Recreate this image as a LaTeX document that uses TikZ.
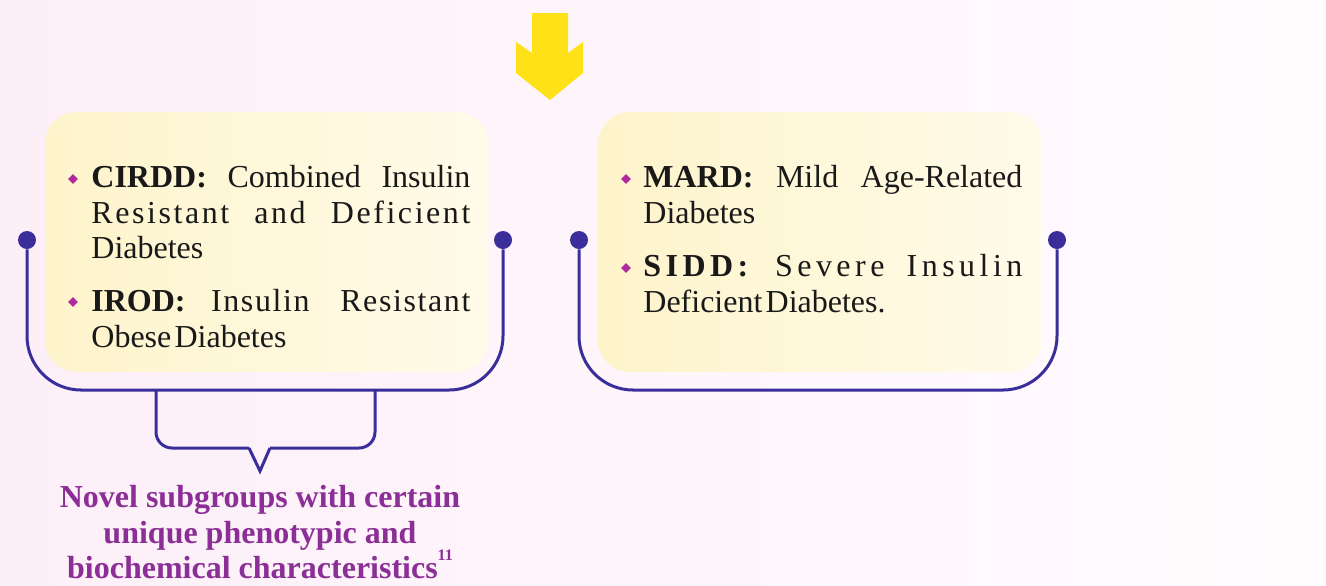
\documentclass[tikz,border=0pt]{standalone}
\usepackage{fontspec}
\setmainfont{Liberation Serif}
\usetikzlibrary{positioning,shapes.geometric}

\definecolor{bgpink}{RGB}{253,239,248}
\definecolor{bgwhite}{RGB}{255,252,254}
\definecolor{panelyellow}{RGB}{254,244,203}
\definecolor{panelcream}{RGB}{255,251,233}
\definecolor{bracketblue}{RGB}{58,46,155}
\definecolor{bulletpink}{RGB}{176,41,159}
\definecolor{captionpurple}{RGB}{139,47,151}
\definecolor{arrowyellow}{RGB}{255,225,23}

\tikzset{
	panel/.style={rectangle, rounded corners=16pt, left color=panelyellow, right color=panelcream, draw=none},
	bracket/.style={draw=bracketblue, line width=1.5pt},
	enddot/.style={circle, fill=bracketblue, minimum size=9pt, inner sep=0pt},
	bulletmark/.style={diamond, fill=bulletpink, minimum size=5pt, inner sep=0pt},
	entry/.style={text width=189.5pt, align=justify, inner sep=0pt, anchor=north west,
		font=\fontsize{16}{17.7}\selectfont, text=black!90},
	caption/.style={align=center, inner sep=0pt, text=captionpurple,
		font=\fontsize{16}{17.7}\selectfont\bfseries}
}

\begin{document}
\begin{tikzpicture}[x=0.5pt, y=-0.5pt]
	\useasboundingbox (0,0) rectangle (1326,585);
	\shade[left color=bgpink, right color=bgwhite] (0,0) rectangle (1326,585);
	
	% arrow from above
	\fill[arrowyellow] (532,13) -- (568,13) -- (568,53) -- (583,42) -- (583,73) -- (550,100)
		-- (516,73) -- (516,42) -- (532,53) -- cycle;
	
	\node[panel, minimum width=221.5pt, minimum height=130pt] (leftpanel) at (266.5,242) {};
	\node[panel, minimum width=222pt, minimum height=130pt] (rightpanel) at (820,242) {};
	
	% left panel entries
	\node[entry] (cirdd) at (91,165) {\textbf{CIRDD:} Combined Insulin\linebreak
		{\addfontfeature{LetterSpace=8}Resistant and Deficient}\linebreak Diabetes};
	\node[entry] (irod) at (91,289) {\textbf{IROD:} {\addfontfeature{LetterSpace=5}Insulin Resistant}\linebreak
		Obese\hspace{0.1em}Diabetes};
	\node[bulletmark] (cirddmark) at (73,179) {};
	\node[bulletmark] (irodmark) at (73,302) {};
	
	% right panel entries
	\node[entry] (mard) at (643,165) {\textbf{MARD:} Mild Age-Related\linebreak Diabetes};
	\node[entry] (sidd) at (643,254) {{\addfontfeature{LetterSpace=14}\textbf{SIDD:} Severe Insulin}\linebreak
		Deficient\hspace{0.1em}Diabetes.};
	\node[bulletmark] (mardmark) at (626,179) {};
	\node[bulletmark] (siddmark) at (626,268) {};
	
	% brackets
	\node[enddot] (leftdotA) at (27,240) {};
	\node[enddot] (leftdotB) at (503,240) {};
	\node[enddot] (rightdotA) at (579,240) {};
	\node[enddot] (rightdotB) at (1057,240) {};
	
	\draw[bracket, rounded corners=27pt] (leftdotA) -- (leftdotA |- 0,390) -- (leftdotB |- 0,390) -- (leftdotB);
	\draw[bracket, rounded corners=27pt] (rightdotA) -- (rightdotA |- 0,390) -- (rightdotB |- 0,390) -- (rightdotB);
	
	\coordinate (braceL) at (156,390);
	\coordinate (braceR) at (375,390);
	\coordinate (notchtip) at (260,471);
	\draw[bracket, rounded corners=8pt] (braceL) |- (249,448);
	\draw[bracket, line join=miter] (249,448) -- (notchtip) -- (270,448);
	\draw[bracket, rounded corners=8pt] (270,448) -| (braceR);
	
	\node[caption, below=7pt of notchtip] (novel) {Novel subgroups with certain\\
		unique phenotypic and\\
		biochemical characteristics\raisebox{0.55em}{\fontsize{8}{8}\selectfont 11}};
\end{tikzpicture}
\end{document}
